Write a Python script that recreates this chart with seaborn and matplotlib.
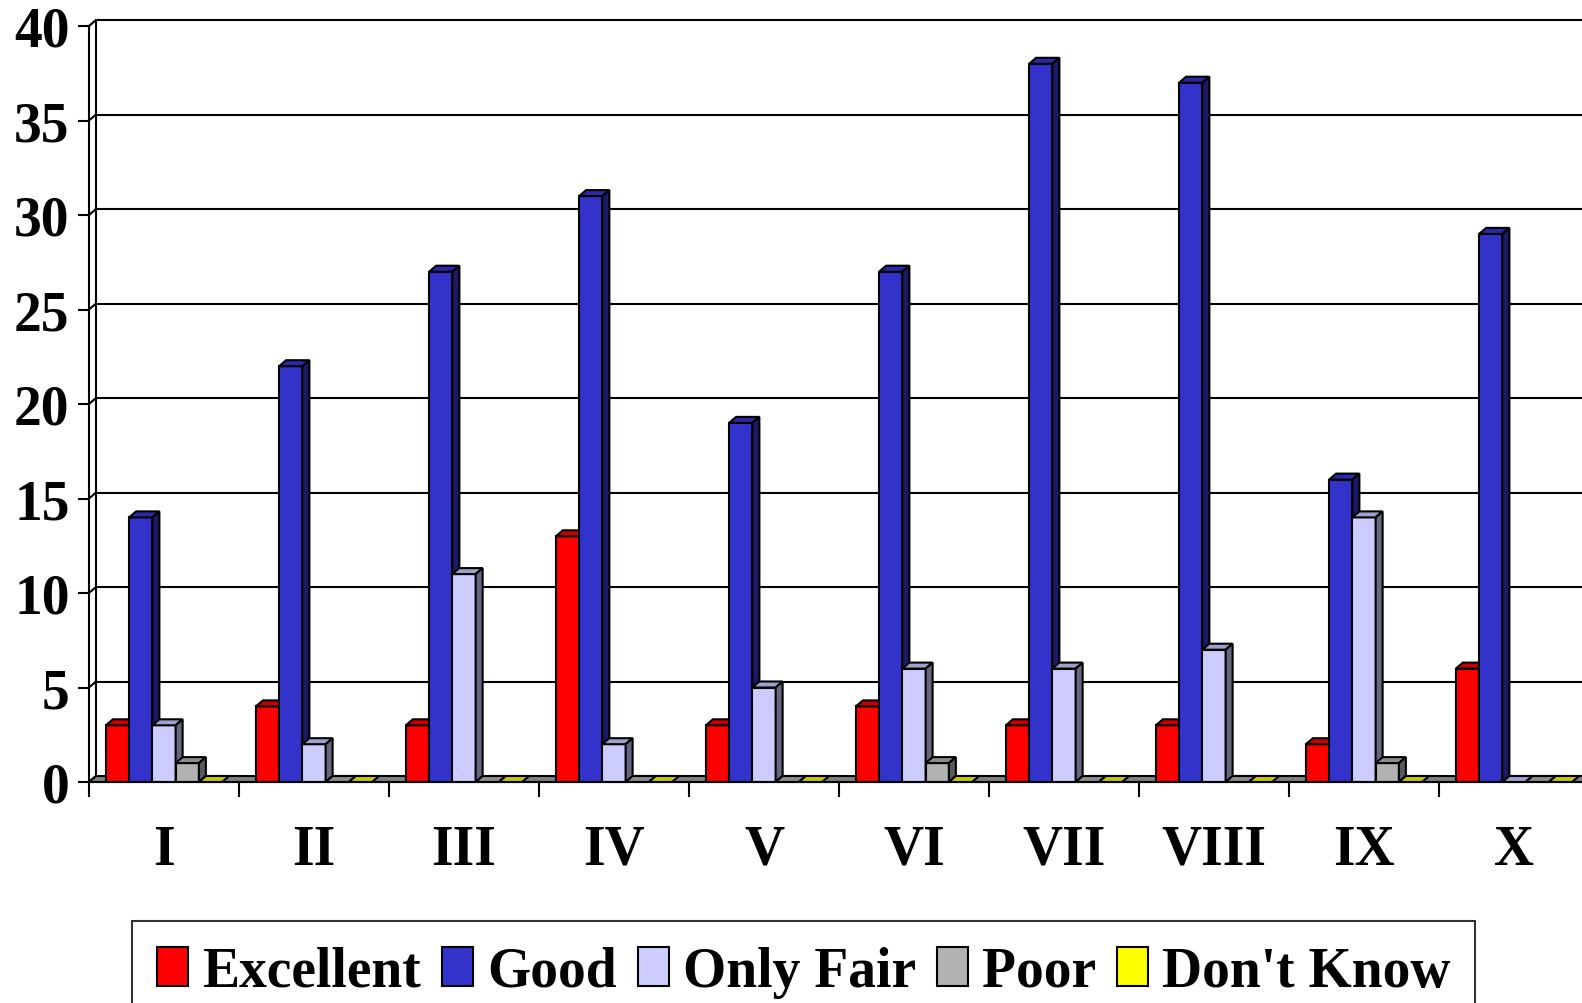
import numpy as np
import pandas as pd
import matplotlib
matplotlib.use("Agg")
import matplotlib.pyplot as plt
import seaborn as sns
from matplotlib.patches import Polygon, Patch

# data
groups = ["I", "II", "III", "IV", "V", "VI", "VII", "VIII", "IX", "X"]
series = ["Excellent", "Good", "Only Fair", "Poor", "Don't Know"]
excellent = [3, 4, 3, 13, 3, 4, 3, 3, 2, 6]
good = [14, 22, 27, 31, 19, 27, 38, 37, 16, 29]
only_fair = [3, 2, 11, 2, 5, 6, 6, 7, 14, 0]
poor = [1, 0, 0, 0, 0, 1, 0, 0, 1, 0]
dont_know = [0, 0, 0, 0, 0, 0, 0, 0, 0, 0]

face_colors = ["#FF0000", "#3333CC", "#CCCCFF", "#B2B2B2", "#FFFF00"]
top_colors = ["#C80000", "#2A2AA8", "#A0A0CC", "#8C8C8C", "#C8C800"]
side_colors = ["#800000", "#1A1A66", "#666680", "#5A5A5A", "#808000"]

df = pd.DataFrame({
    "group": groups * 5,
    "series": np.repeat(series, len(groups)),
    "value": excellent + good + only_fair + poor + dont_know,
})

sns.set_style("white")
plt.rcParams["font.family"] = ["Liberation Serif", "DejaVu Serif"]
plt.rcParams["font.weight"] = "bold"
plt.rcParams["text.color"] = "black"
plt.rcParams["xtick.color"] = "black"
plt.rcParams["ytick.color"] = "black"

W, H = 1582, 1004
fig = plt.figure(figsize=(W / 100, H / 100), dpi=100)
ax = fig.add_axes([89 / W, 1 - 783 / H, 1500 / W, 756 / H])

sns.barplot(data=df, x="group", y="value", hue="series", order=groups,
            hue_order=series, palette=face_colors, saturation=1, width=0.775,
            edgecolor="black", linewidth=1.5, legend=False, ax=ax)

ax.set_xlim(-0.5, 9.5)
ax.set_ylim(0, 40)

# pixel depth offset for the fake 3D look
DX, DY = 7, 6
p0 = ax.transData.transform((0, 0))
p1 = ax.transData.transform((1, 1))
ddx = DX / (p1[0] - p0[0])
ddy = DY / (p1[1] - p0[1])

for i, cont in enumerate(ax.containers):
    for p in cont:
        x0, w, h = p.get_x(), p.get_width(), p.get_height()
        z = 3 + (x0 + 0.5) * 0.1
        p.set_zorder(z)
        top = Polygon([(x0, h), (x0 + w, h), (x0 + w + ddx, h + ddy), (x0 + ddx, h + ddy)],
                      closed=True, fc=top_colors[i], ec="black", lw=1.5, zorder=z)
        ax.add_patch(top)
        if h > 0:
            side = Polygon([(x0 + w, 0), (x0 + w + ddx, ddy), (x0 + w + ddx, h + ddy), (x0 + w, h)],
                           closed=True, fc=side_colors[i], ec="black", lw=1.5, zorder=z)
            ax.add_patch(side)

# floor
floor = Polygon([(-0.5, 0), (10.5, 0), (10.5 + ddx, ddy), (-0.5 + ddx, ddy)],
                closed=True, fc="#808080", ec="black", lw=1.5, zorder=1.5, clip_on=False)
ax.add_patch(floor)

# back wall grid
for v in range(5, 41, 5):
    ax.plot([-0.5 + ddx, 10.5], [v + ddy, v + ddy], color="black", lw=1.5, zorder=1, clip_on=False)
for v in range(0, 41, 5):
    ax.plot([-0.5, -0.5 + ddx], [v, v + ddy], color="black", lw=1.5, zorder=1, clip_on=False)
ax.plot([-0.5 + ddx, -0.5 + ddx], [ddy, 40 + ddy], color="black", lw=1.5, zorder=1, clip_on=False)

# axes styling
for s in ["top", "right"]:
    ax.spines[s].set_visible(False)
for s in ["left", "bottom"]:
    ax.spines[s].set_linewidth(1.5)
    ax.spines[s].set_color("black")
    ax.spines[s].set_zorder(10)

ax.set_yticks(range(0, 41, 5))
ax.tick_params(axis="y", direction="out", length=8, width=1.5, pad=6, labelsize=40,
               left=True, colors="black")
ax.set_xticks(np.arange(-0.5, 10, 1))
ax.set_xticklabels([])
ax.set_xticks(np.arange(len(groups)), labels=groups, minor=True)
ax.tick_params(axis="x", which="major", direction="out", length=11, width=1.5, bottom=True)
ax.tick_params(axis="x", which="minor", length=0, pad=30, labelsize=40, colors="black")
ax.set_xlabel("")
ax.set_ylabel("")
ax.grid(False)

handles = [Patch(facecolor=c, edgecolor="black", linewidth=1.5) for c in face_colors]
leg = fig.legend(handles, series, loc="upper left", bbox_to_anchor=(132 / W, 1 - 922 / H),
                 ncol=5, frameon=True, fancybox=False, edgecolor="black", fontsize=40,
                 handlelength=0.56, handleheight=0.68, handletextpad=0.25, columnspacing=0.38,
                 borderpad=0.45, borderaxespad=0, labelcolor="black")
leg.get_frame().set_linewidth(1.5)

fig.savefig("out.png", dpi=100)
